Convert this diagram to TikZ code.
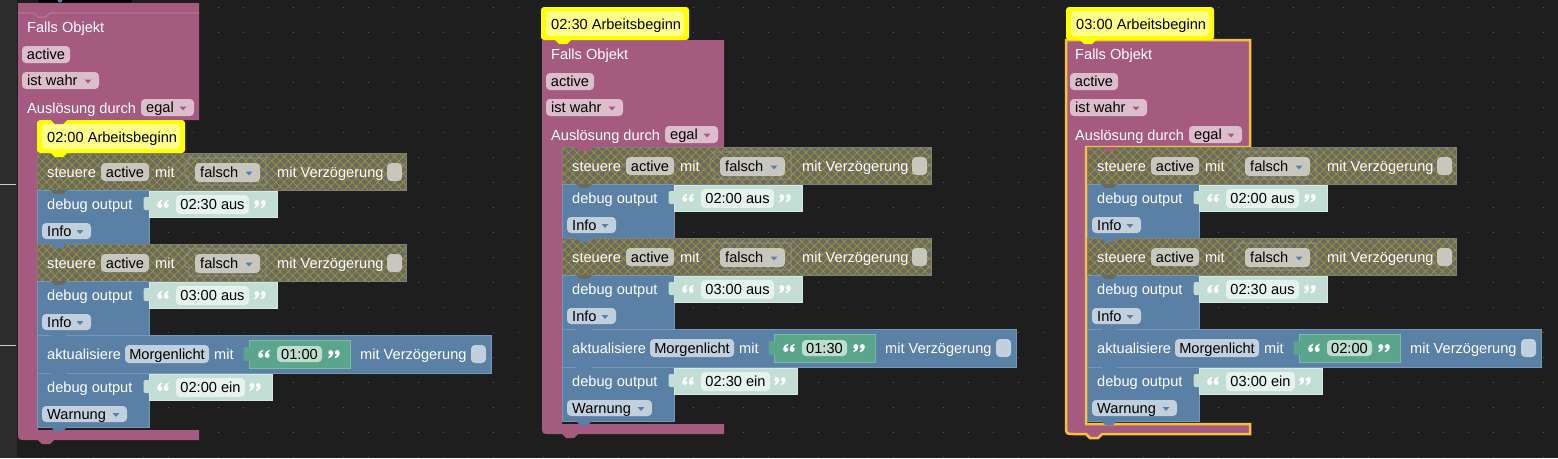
\documentclass[tikz,border=0pt]{standalone}
\usepackage{fontspec}
\setmainfont{Liberation Sans}
\usetikzlibrary{patterns.meta}
\definecolor{bg}{HTML}{1E1E1E}
\definecolor{strip}{HTML}{2D2D2D}
\definecolor{pinkb}{HTML}{A55B80}
\definecolor{pinkedge}{HTML}{C48AA8}
\definecolor{pinkpill}{HTML}{DBBDCC}
\definecolor{blueb}{HTML}{5B80A5}
\definecolor{blueedge}{HTML}{7896B6}
\definecolor{bluepill}{HTML}{C2CFDC}
\definecolor{stgray}{HTML}{6A6A62}
\definecolor{sthatch}{HTML}{9C9832}
\definecolor{stedge}{HTML}{80807A}
\definecolor{stpill}{HTML}{C8C7BE}
\definecolor{sockline}{HTML}{8D99A3}
\definecolor{strb}{HTML}{C2DDD3}
\definecolor{stredge}{HTML}{D6EAE2}
\definecolor{strpill}{HTML}{E6F2EC}
\definecolor{greenb}{HTML}{5BA58C}
\definecolor{greenedge}{HTML}{7BBBA3}
\definecolor{greenpill}{HTML}{BEDDCF}
\definecolor{yel}{HTML}{FFFF00}
\definecolor{yelpill}{HTML}{FFFF8A}
\definecolor{selo}{HTML}{F8C13A}
\definecolor{griddot}{HTML}{5A5A5A}
\newcommand{\bkfont}{\fontsize{14.6}{17}\selectfont}
\tikzset{
  wtxt/.style={text=white,font=\bkfont,inner sep=0pt},
  ptxt/.style={text=black,font=\bkfont,inner sep=0pt},
}
% text on block, vertically centred at #2
\newcommand{\bktx}[3]{\node[wtxt,anchor=base west] at (#1,#2+5) {#3};}
% centred pill
\newcommand{\bkpill}[6]{%
  \fill[#5,rounded corners=4pt] (#1,#2) rectangle (#3,#4);
  \node[ptxt,anchor=base] at ({(#1+#3)/2},{(#2+#4)/2+5}) {#6};}
% dropdown pill
\newcommand{\bkdrop}[7]{%
  \fill[#5,rounded corners=4pt] (#1,#2) rectangle (#3,#4);
  \node[ptxt,anchor=base west] at ({#1+5},{(#2+#4)/2+5}) {#6};
  \fill[#7] ({#3-14.5},{(#2+#4)/2-1}) -- ++(7,0) -- ++(-3.5,4) -- cycle;}
% quote mark
\newcommand{\bkqm}{%
  \fill[white] (0,1.5) circle (2.4pt);
  \fill[white] (-2.4,1.5) .. controls (-2.4,-2) and (0,-3.8) .. (2.4,-4.4) -- (2.4,-3) .. controls (0.6,-2.4) .. (0,-0.9) -- cycle;}
\newcommand{\bkoq}[2]{\begin{scope}[shift={(#1,#2)}]
  \begin{scope}[xshift=-3.3pt]\bkqm\end{scope}
  \begin{scope}[xshift=3.3pt]\bkqm\end{scope}\end{scope}}
\newcommand{\bkcq}[2]{\begin{scope}[shift={(#1,#2)},rotate=180]
  \begin{scope}[xshift=-3.3pt]\bkqm\end{scope}
  \begin{scope}[xshift=3.3pt]\bkqm\end{scope}\end{scope}}
% notch tab
\newcommand{\bktab}[3]{\fill[#3] (#1,#2) -- (#1+16,#2) -- (#1+12,#2+4) -- (#1+4,#2+4) -- cycle;}
% steuere block (local coords)
\newcommand{\bksteuere}[1]{%
  \fill[stgray] (0,#1) rectangle (369,#1+37);
  \fill[pattern={Hatch[angle=45,distance=6pt,line width=0.7pt]},pattern color=sthatch] (0,#1) rectangle (369,#1+37);
  \draw[stedge,line width=0.6pt] (0,#1) rectangle (369,#1+37);
  \bktx{10}{#1+19}{steuere}
  \bkpill{64}{#1+10}{112}{#1+28}{stpill}{active}
  \bktx{118}{#1+19}{mit}
  \draw[sockline,line width=0.8pt] (152,#1+5) -- (152,#1+10) -- (148,#1+12) -- (148,#1+22) -- (152,#1+24) -- (152,#1+32) -- (229,#1+32) -- (229,#1+5) -- cycle;
  \bkdrop{158}{#1+10}{223}{#1+29}{stpill}{falsch}{blueb}
  \bktx{240}{#1+19}{mit Verzögerung}
  \fill[stpill,rounded corners=4pt] (350,#1+10) rectangle (365,#1+28);}
% debug output block: y, string, string right, pill right, level, level right
\newcommand{\bkdebug}[6]{%
  \fill[blueb,draw=blueedge,line width=0.6pt] (0,#1) rectangle (112,#1+54);
  \bktx{10}{#1+14}{debug output}
  \fill[strb,draw=stredge,line width=0.6pt] (112,#1+1) rectangle (#3,#1+27);
  \fill[strb,rounded corners=2pt] (106.5,#1+7) rectangle (114,#1+20);
  \bkoq{126}{#1+14}
  \bkpill{139}{#1+5}{#4}{#1+24}{strpill}{#2}
  \bkcq{#3-17}{#1+14}
  \bkdrop{5}{#1+33}{#6}{#1+49}{bluepill}{#5}{blueb}}
% aktualisiere block
\newcommand{\bkaktual}[2]{%
  \fill[blueb,draw=blueedge,line width=0.6pt] (0,#1) rectangle (454,#1+38);
  \bktx{10}{#1+19}{aktualisiere}
  \bkpill{88}{#1+10}{172}{#1+28}{bluepill}{Morgenlicht}
  \bktx{177}{#1+19}{mit}
  \fill[greenb,draw=greenedge,line width=0.6pt] (212,#1+5) rectangle (313,#1+33);
  \fill[greenb,rounded corners=2pt] (206.5,#1+12) rectangle (214,#1+26);
  \bkoq{227}{#1+19}
  \bkpill{240}{#1+11}{285}{#1+27}{greenpill}{#2}
  \bkcq{297}{#1+19}
  \bktx{323}{#1+19}{mit Verzögerung}
  \fill[bluepill,rounded corners=4pt] (434,#1+10) rectangle (449,#1+28);}
% whole inner stack
\newcommand{\bkstack}[6]{\begin{scope}[shift={(#1,#2)}]
  \bksteuere{0}
  \bkdebug{37}{#3}{240}{212}{Info}{54}
  \bksteuere{91}
  \bkdebug{128}{#4}{240}{212}{Info}{54}
  \bkaktual{182}{#5}
  \bkdebug{220}{#6}{235}{208}{Warnung}{90}
  \bktab{14}{37}{stgray}
  \bktab{14}{91}{blueb}
  \bktab{14}{128}{stgray}
  \bktab{14}{182}{blueb}
  \bktab{14}{220}{blueb}
  \bktab{14}{274}{blueb}
  \end{scope}}
% pink C block: xl, ytop, head bottom, bar top, xr, extra options
\newcommand{\bkpink}[6]{%
  \path[fill=pinkb,#6] (#1,#2) -- (#5,#2) -- (#5,#3) -- (#1+20,#3) -- (#1+20,#4) -- (#5,#4) -- (#5,#4+10)
    -- (#1+36,#4+10) -- (#1+32,#4+14) -- (#1+24,#4+14) -- (#1+20,#4+10) -- (#1+8,#4+10)
    .. controls (#1,#4+10) .. (#1,#4+2) -- cycle;}
\newcommand{\bkhead}[2]{%
  \bktx{#1+9}{#2-93}{Falls Objekt}
  \bkpill{#1+4}{#2-74}{#1+52}{#2-57}{pinkpill}{active}
  \bkdrop{#1+4}{#2-48}{#1+81}{#2-31}{pinkpill}{ist wahr}{pinkb}
  \bktx{#1+9}{#2-12}{Auslösung durch}
  \bkdrop{#1+123}{#2-21}{#1+176}{#2-4}{pinkpill}{egal}{pinkb}}
\newcommand{\bkcomment}[3]{%
  \fill[yel,rounded corners=3pt] (#1,#2) rectangle (#1+148,#2+33);
  \fill[yelpill,rounded corners=4pt] (#1+5,#2+4) rectangle (#1+143,#2+29);
  \node[ptxt,anchor=base west] at (#1+10,#2+22) {#3};}
\begin{document}
\begin{tikzpicture}[x=1pt,y=-1pt]
\useasboundingbox (0,0) rectangle (1558,458);
\fill[bg] (0,0) rectangle (1558,458);
\foreach \gx in {18,43,...,1558}{\foreach \gy in {7,32,...,458}{\fill[griddot] (\gx,\gy) rectangle ++(1.2,1.2);}}
\fill[strip] (0,0) rectangle (17,458);
\draw[white!80!black,line width=1pt] (0,184) -- (16,184);
\draw[white!80!black,line width=1pt] (0,345) -- (16,345);
% fragment of block above the first one
\fill[black,rounded corners=2pt] (38,-4) rectangle (132,2.5);
\fill[blueb] (60,0) circle (2.5pt);
% pink event blocks
\bkpink{18}{3}{120}{430}{199}{}
\draw[pinkedge,line width=0.7pt] (18,13) -- (34,13) -- (38,17) -- (46,17) -- (50,13) -- (199,13);
\bkpink{542}{40}{147}{424}{724}{}
\bkpink{1066}{40}{147}{424}{1250}{draw=selo,line width=2.5pt}
\bkhead{18}{120}
\bkhead{542}{147}
\bkhead{1066}{147}
% comments
\bkcomment{37}{120}{02:00 Arbeitsbeginn}
\bktab{51}{120}{pinkb}
\bkcomment{541}{7}{02:30 Arbeitsbeginn}
\bkcomment{1066}{7}{03:00 Arbeitsbeginn}
% inner stacks
\bkstack{37}{153}{02:30 aus}{03:00 aus}{01:00}{02:00 ein}
\bktab{51}{153}{yel}
\bkstack{562}{147}{02:00 aus}{03:00 aus}{01:30}{02:30 ein}
\bktab{576}{147}{pinkb}
\bkstack{1087}{147}{02:00 aus}{02:30 aus}{02:00}{03:00 ein}
\bktab{1101}{147}{pinkb}
\bktab{555}{40}{yel}
\bktab{1080}{40}{yel}
\end{tikzpicture}
\end{document}
